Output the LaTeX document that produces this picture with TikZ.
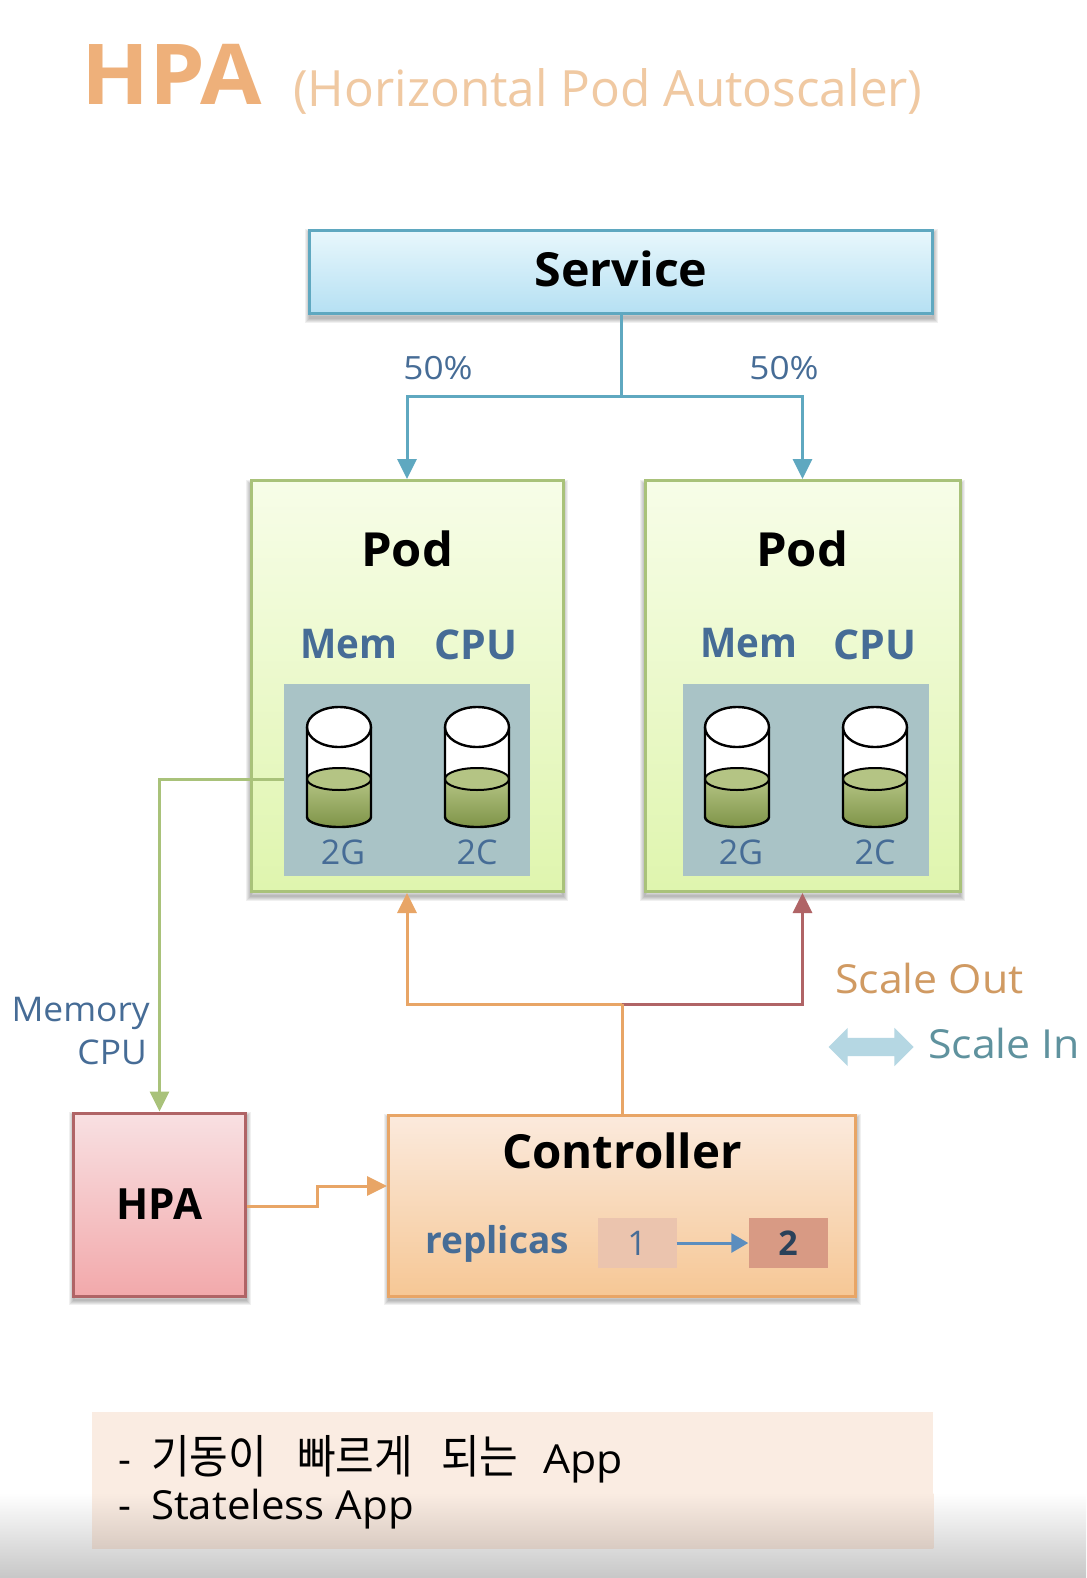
\documentclass[tikz,border=0pt]{standalone}
\usepackage{fontspec}
\usepackage{graphicx}
\setmainfont{Open Sans}
\newfontfamily\kr{Noto Sans CJK KR}
\usetikzlibrary{arrows.meta,shapes.arrows,calc}
\definecolor{podline}{HTML}{A9C27A}
\definecolor{podtop}{HTML}{F7FDE8}
\definecolor{podbottom}{HTML}{DFF5AE}
\definecolor{innerfill}{HTML}{A9C3C6}
\definecolor{blueline}{HTML}{5FA8C0}
\definecolor{orangeline}{HTML}{E8A566}
\definecolor{redline}{HTML}{B06466}
\definecolor{labelblue}{HTML}{466C96}
\definecolor{cylgreen}{HTML}{B4C484}
\definecolor{cylgreendark}{HTML}{7F9448}
\definecolor{titleorange}{HTML}{EEB07A}
\definecolor{subtitleorange}{HTML}{F0C9A2}
\definecolor{scaleout}{HTML}{D09A62}
\definecolor{scalein}{HTML}{5F929E}
\definecolor{scalearrow}{HTML}{B5D7E3}
\definecolor{notefill}{HTML}{FAECE2}
\definecolor{notefillb}{HTML}{D9CBC2}
\definecolor{servicetop}{HTML}{E8F7FC}
\definecolor{servicebottom}{HTML}{B5E0F3}
\definecolor{hpatop}{HTML}{F8E0E2}
\definecolor{hpabottom}{HTML}{F2A9AB}
\definecolor{cttop}{HTML}{FBEADD}
\definecolor{ctbottom}{HTML}{F6C795}
\definecolor{onefill}{HTML}{EBC4AE}
\definecolor{twofill}{HTML}{D89A84}
\definecolor{smallarrow}{HTML}{5B8DBE}
\newcommand{\sx}[2]{\scalebox{#1}[1]{#2}}
\tikzset{
  softlayer/.style={preaction={draw=black,draw opacity=.06,line width=#1,transform canvas={yshift=-4pt}}},
  boxshadow/.style={softlayer=10pt,softlayer=8pt,softlayer=6pt,softlayer=4pt,softlayer=2pt},
  panel/.style={draw,line width=3pt,anchor=north west,boxshadow,inner sep=0pt},
  podbox/.style={panel,draw=podline,top color=podtop,bottom color=podbottom,minimum height=411pt},
  innerbox/.style={fill=innerfill,anchor=north west,minimum width=246pt,minimum height=192pt,inner sep=0pt},
  podtitle/.style={font=\bfseries\fontsize{47}{47}\selectfont,text=black,inner sep=0pt},
  memlabel/.style={font=\fontsize{41}{41}\selectfont\bfseries,text=labelblue,inner sep=0pt},
  sizelabel/.style={font=\fontsize{34}{34}\selectfont,text=labelblue,inner sep=0pt},
  pct/.style={font=\fontsize{32}{32}\selectfont,text=labelblue,inner sep=0pt},
  flow/.style={line width=3pt,-{Triangle[length=20pt,width=19pt]}},
  smalltext/.style={font=\fontsize{34}{34}\selectfont,text=labelblue,inner sep=0pt},
  counter/.style={minimum width=79pt,minimum height=50pt,inner sep=0pt,font=\fontsize{34}{34}\selectfont},
  pics/drum/.style={code={
    \fill[white] (-32,0) -- (-32,90) arc[start angle=180,end angle=0,x radius=32,y radius=10] -- (32,0) -- cycle;
    \shade[top color=cylgreen,bottom color=cylgreendark]
      (-32,52) -- (-32,90) arc[start angle=180,end angle=0,x radius=32,y radius=10] -- (32,52) -- cycle;
    \fill[cylgreen,draw=black,line width=2pt] (0,52) ellipse[x radius=32,y radius=11];
    \draw[black,line width=2.4pt] (-32,0) -- (-32,90) arc[start angle=180,end angle=0,x radius=32,y radius=10] -- (32,0);
    \fill[white,draw=black,line width=2.4pt] (0,0) ellipse[x radius=32,y radius=20];
  }},
}
\begin{document}
\begin{tikzpicture}[x=1pt,y=-1pt]
\useasboundingbox (0,0) rectangle (1086,1578);
\fill[white] (0,0) rectangle (1086,1578);
\shade[top color=white,bottom color=black!22] (0,1493) rectangle (1086,1578);

% title
\node[anchor=base west,inner sep=0pt,text=titleorange,font=\bfseries\fontsize{84}{84}\selectfont] (title) at (81,105) {\sx{1.06}{HPA}};
\node[anchor=base west,inner sep=0pt,text=subtitleorange,font=\fontsize{50}{50}\selectfont] (subtitle) at (293,107) {\sx{.99}{(Horizontal Pod Autoscaler)}};

% boxes
\node[panel,draw=blueline,top color=servicetop,bottom color=servicebottom,minimum width=623pt,minimum height=83pt,font=\bfseries\fontsize{47}{47}\selectfont] (svc) at (308,229) {\raisebox{6pt}{\sx{1.03}{Service}}};
\node[podbox,minimum width=312pt] (pod1) at (249.5,479) {};
\node[podbox,minimum width=315pt] (pod2) at (643.5,479) {};
\node[innerbox] (in1) at (284,684) {};
\node[innerbox] (in2) at (683,684) {};
\node[podtitle] (pt1) at (407,549) {\sx{1.04}{Pod}};
\node[podtitle] (pt2) at (802,549) {\sx{1.04}{Pod}};
\node[memlabel] (m1) at (349,644) {\sx{.94}{Mem}};
\node[memlabel] (c1) at (476,645) {\sx{1}{CPU}};
\node[memlabel] (m2) at (749,643) {\sx{.94}{Mem}};
\node[memlabel] (c2) at (875,645) {\sx{1}{CPU}};
\pic at (339,727) {drum};
\pic at (477,727) {drum};
\pic at (737,727) {drum};
\pic at (875,727) {drum};
\node[sizelabel] (s1) at (343,852) {2G};
\node[sizelabel] (s2) at (477,852) {2C};
\node[sizelabel] (s3) at (741,852) {2G};
\node[sizelabel] (s4) at (875,852) {2C};

\node[panel,draw=redline,top color=hpatop,bottom color=hpabottom,minimum width=172pt,minimum height=183pt,font=\bfseries\fontsize{43}{43}\selectfont] (hpa) at (72,1111.5) {\sx{.98}{HPA}};
\node[panel,draw=orangeline,top color=cttop,bottom color=ctbottom,minimum width=467pt,minimum height=181pt] (ctl) at (387,1113.5) {};
\node[inner sep=0pt,font=\bfseries\fontsize{47}{47}\selectfont] (ctltitle) at (622,1151) {\sx{1.01}{Controller}};
\node[inner sep=0pt,font=\bfseries\fontsize{37}{37}\selectfont,text=labelblue] (rep) at (497,1244) {\sx{1}{replicas}};
\node[counter,fill=onefill,text=labelblue] (one) at (637,1243) {1};
\node[counter,fill=twofill,text=labelblue!60!black,font=\bfseries\fontsize{34}{34}\selectfont] (two) at (788,1243) {2};
\draw[line width=3pt,draw=smallarrow,-{Triangle[length=17pt,width=19pt]}] (one) -- (two);

% connectors
\coordinate (split) at (svc.south |- 0,396.5);
\draw[blueline,line width=3pt] (svc.south) -- (split);
\draw[flow,blueline] (split) -| (pod1.north);
\draw[flow,blueline] (split) -| (pod2.north);
\node[pct,anchor=base] (p1) at (438,379) {\sx{1.1}{50\%}};
\node[pct,anchor=base] (p2) at (784,379) {\sx{1.1}{50\%}};

\coordinate (tap) at (in1.west |- 0,779);
\draw[flow,podline] (tap) -| (hpa.north);
\node[smalltext,anchor=base east] (lm) at (150,1021) {\sx{1.04}{Memory}};
\node[smalltext,anchor=base east] (lc) at (147,1064) {\sx{1.04}{CPU}};

\coordinate (fork) at (ctl.north |- 0,1004);
\draw[flow,redline] (fork) -| (pod2.south);
\draw[flow,orangeline] (fork) -| (pod1.south);
\draw[orangeline,line width=3pt] (ctl.north) -- (fork);

\coordinate (stepa) at (317,1206);
\coordinate (stepb) at (317,1186);
\draw[flow,orangeline] (hpa.east |- stepa) -- (stepa) -- (stepb) -- (ctl.west |- stepb);

\node[inner sep=0pt,anchor=base west,text=scaleout,font=\fontsize{40}{40}\selectfont] (so) at (835,993) {\sx{1.07}{Scale Out}};
\node[double arrow,fill=scalearrow,minimum height=85pt,double arrow head extend=10pt,inner sep=9pt] (da) at (871,1047) {};
\node[inner sep=0pt,anchor=base west,text=scalein,font=\fontsize{40}{40}\selectfont] (si) at (928,1058) {\sx{1.07}{Scale In}};

% note
\node[fill=notefill,anchor=north west,minimum width=841pt,minimum height=136pt,inner sep=0pt] (note) at (92,1412) {};
\shade[top color=notefill,bottom color=notefillb] (note.west |- 0,1493) rectangle (note.south east);
\node[inner sep=0pt,anchor=base west,font=\fontsize{40}{40}\selectfont] (n1) at (118,1473) {-\hspace{20pt}{\kr\fontsize{46}{46}\selectfont\sx{.914}{기동이}\hspace{30pt}\sx{.914}{빠르게}\hspace{28pt}\sx{.914}{되는}}\hspace{25pt}\sx{1.07}{App}};
\node[inner sep=0pt,anchor=base west,font=\fontsize{40}{40}\selectfont] (n2) at (118,1519) {-\hspace{20pt}\sx{1.05}{Stateless App}};
\end{tikzpicture}
\end{document}
